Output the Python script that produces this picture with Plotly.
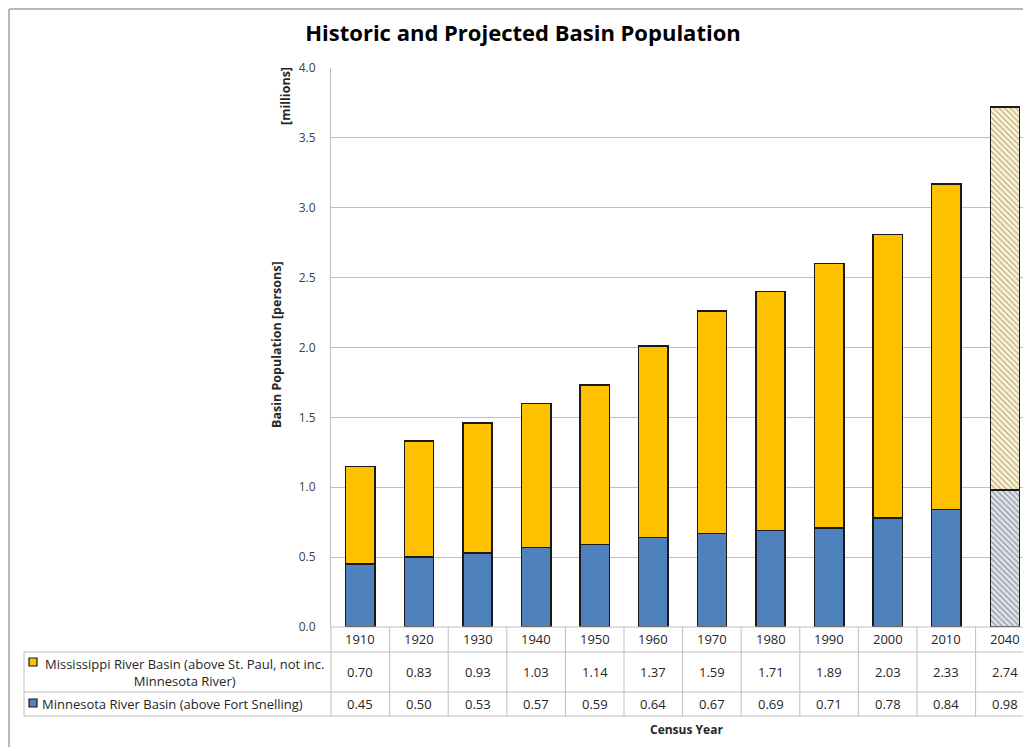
import plotly.graph_objects as go

years = ["1910", "1920", "1930", "1940", "1950", "1960", "1970", "1980", "1990", "2000", "2010", "2040"]
minnesota = [0.45, 0.50, 0.53, 0.57, 0.59, 0.64, 0.67, 0.69, 0.71, 0.78, 0.84, 0.98]
mississippi = [0.70, 0.83, 0.93, 1.03, 1.14, 1.37, 1.59, 1.71, 1.89, 2.03, 2.33, 2.74]
miss_label = "Mississippi River Basin (above St. Paul, not inc.<br>Minnesota River)"
minn_label = "Minnesota River Basin (above Fort Snelling)"
y_ticks = [0.0, 0.5, 1.0, 1.5, 2.0, 2.5, 3.0, 3.5, 4.0]

OFF = 8  # page body margin
W, H = 1031 - 2 * OFF, 755 - 2 * OFF
FONT = "Open Sans"
GRID = "#BFBFBF"
TXT = "#262626"

def px(x):
    return (x - OFF) / W

def py(y):
    return 1 - (y - OFF) / H

xs = list(range(len(years)))
proj = [y == "2040" for y in years]

blue_col = ["#DDE4ED" if p else "#4F81BD" for p in proj]
orange_col = ["#FFF3CC" if p else "#FFC000" for p in proj]
shape_arr = ["\\" if p else "" for p in proj]

fig = go.Figure()
fig.add_trace(go.Bar(
    x=xs, y=minnesota, width=0.5, name=minn_label,
    marker=dict(color=blue_col, line=dict(color="#1A1A1A", width=1.5),
                pattern=dict(shape=shape_arr, fillmode="overlay", fgcolor="#9AADC4",
                             size=4, solidity=0.3)),
    showlegend=False))
fig.add_trace(go.Bar(
    x=xs, y=mississippi, width=0.5, name=miss_label,
    marker=dict(color=orange_col, line=dict(color="#1A1A1A", width=1.5),
                pattern=dict(shape=shape_arr, fillmode="overlay", fgcolor="#F6E4AE",
                             size=4, solidity=0.25)),
    showlegend=False))

plot_left = 331
cat_w = 58.6
x_hi = -0.5 + (OFF + W - plot_left) / cat_w

fig.update_layout(
    width=W, height=H, barmode="stack",
    margin=dict(l=0, r=0, t=0, b=0, pad=0),
    paper_bgcolor="white", plot_bgcolor="white",
    font=dict(family=FONT, color=TXT, size=12),
    xaxis=dict(domain=[px(plot_left), 1], range=[-0.5, x_hi], showticklabels=False,
               showgrid=False, zeroline=False, showline=False, automargin=False),
    yaxis=dict(domain=[py(627), py(68)], range=[0, 4], tickvals=y_ticks,
               ticktext=[f"{v:.1f}" for v in y_ticks], showgrid=True, gridcolor=GRID,
               gridwidth=1, zeroline=False, showline=True, linecolor=GRID,
               ticks="", ticklabelstandoff=12, automargin=False,
               tickfont=dict(size=12, color="#404040")),
    title=dict(text="<b>Historic and Projected Basin Population</b>", x=px(523),
               xanchor="center", y=py(33), yanchor="middle", automargin=False,
               font=dict(size=22, color="#000000", family=FONT)),
)

shapes = []
# chart outer border (as close to the page corner as the page allows)
shapes.append(dict(type="line", xref="paper", yref="paper", x0=px(9), x1=px(9),
                   y0=0, y1=py(9), line=dict(color="#A0A0A0", width=1.5)))
shapes.append(dict(type="line", xref="paper", yref="paper", x0=px(9), x1=1,
                   y0=py(9), y1=py(9), line=dict(color="#A0A0A0", width=1.5)))
# table horizontal lines
for yy, x0 in [(627, plot_left), (652, 24), (692, 24), (716, 24)]:
    shapes.append(dict(type="line", xref="paper", yref="paper", x0=px(x0), x1=1,
                       y0=py(yy), y1=py(yy), line=dict(color=GRID, width=1)))
# table left borders
shapes.append(dict(type="line", xref="paper", yref="paper", x0=px(24), x1=px(24),
                   y0=py(652), y1=py(716), line=dict(color=GRID, width=1)))
shapes.append(dict(type="line", xref="paper", yref="paper", x0=px(plot_left), x1=px(plot_left),
                   y0=py(627), y1=py(716), line=dict(color=GRID, width=1)))
# column separators
for k in range(1, len(years)):
    shapes.append(dict(type="line", xref="x", yref="paper", x0=k - 0.5, x1=k - 0.5,
                       y0=py(627), y1=py(716), line=dict(color=GRID, width=1)))
# legend keys
shapes.append(dict(type="rect", xref="paper", yref="paper", x0=px(29), x1=px(37),
                   y0=py(666), y1=py(658), fillcolor="#FFC000",
                   line=dict(color="#1A1A1A", width=1.2)))
shapes.append(dict(type="rect", xref="paper", yref="paper", x0=px(29), x1=px(37),
                   y0=py(707), y1=py(699), fillcolor="#4F81BD",
                   line=dict(color="#1A1A1A", width=1.2)))

TS = 13
ann = []
for i, yr in enumerate(years):
    ann.append(dict(x=i, y=py(639), xref="x", yref="paper", text=yr, showarrow=False,
                    font=dict(size=TS, color=TXT), xanchor="center", yanchor="middle"))
    ann.append(dict(x=i, y=py(672), xref="x", yref="paper", text=f"{mississippi[i]:.2f}",
                    showarrow=False, font=dict(size=TS, color=TXT), xanchor="center", yanchor="middle"))
    ann.append(dict(x=i, y=py(704), xref="x", yref="paper", text=f"{minnesota[i]:.2f}",
                    showarrow=False, font=dict(size=TS, color=TXT), xanchor="center", yanchor="middle"))
ann.append(dict(x=px(184), y=py(672), xref="paper", yref="paper", text=miss_label,
                showarrow=False, align="center", font=dict(size=TS, color=TXT),
                xanchor="center", yanchor="middle"))
ann.append(dict(x=px(40), y=py(704), xref="paper", yref="paper", text=minn_label,
                showarrow=False, align="left", font=dict(size=TS, color=TXT),
                xanchor="left", yanchor="middle"))
ann.append(dict(x=px(686), y=py(729), xref="paper", yref="paper", text="<b>Census Year</b>",
                showarrow=False, font=dict(size=12, color=TXT), xanchor="center", yanchor="middle"))
ann.append(dict(x=px(277), y=py(345), xref="paper", yref="paper",
                text="<b>Basin Population [persons]</b>", textangle=-90, showarrow=False,
                font=dict(size=12.5, color=TXT), xanchor="center", yanchor="middle"))
ann.append(dict(x=px(285), y=py(96), xref="paper", yref="paper",
                text="<b>[millions]</b>", textangle=-90, showarrow=False,
                font=dict(size=12.5, color=TXT), xanchor="center", yanchor="middle"))

fig.update_layout(shapes=shapes, annotations=ann)
fig.write_html("out.html")
